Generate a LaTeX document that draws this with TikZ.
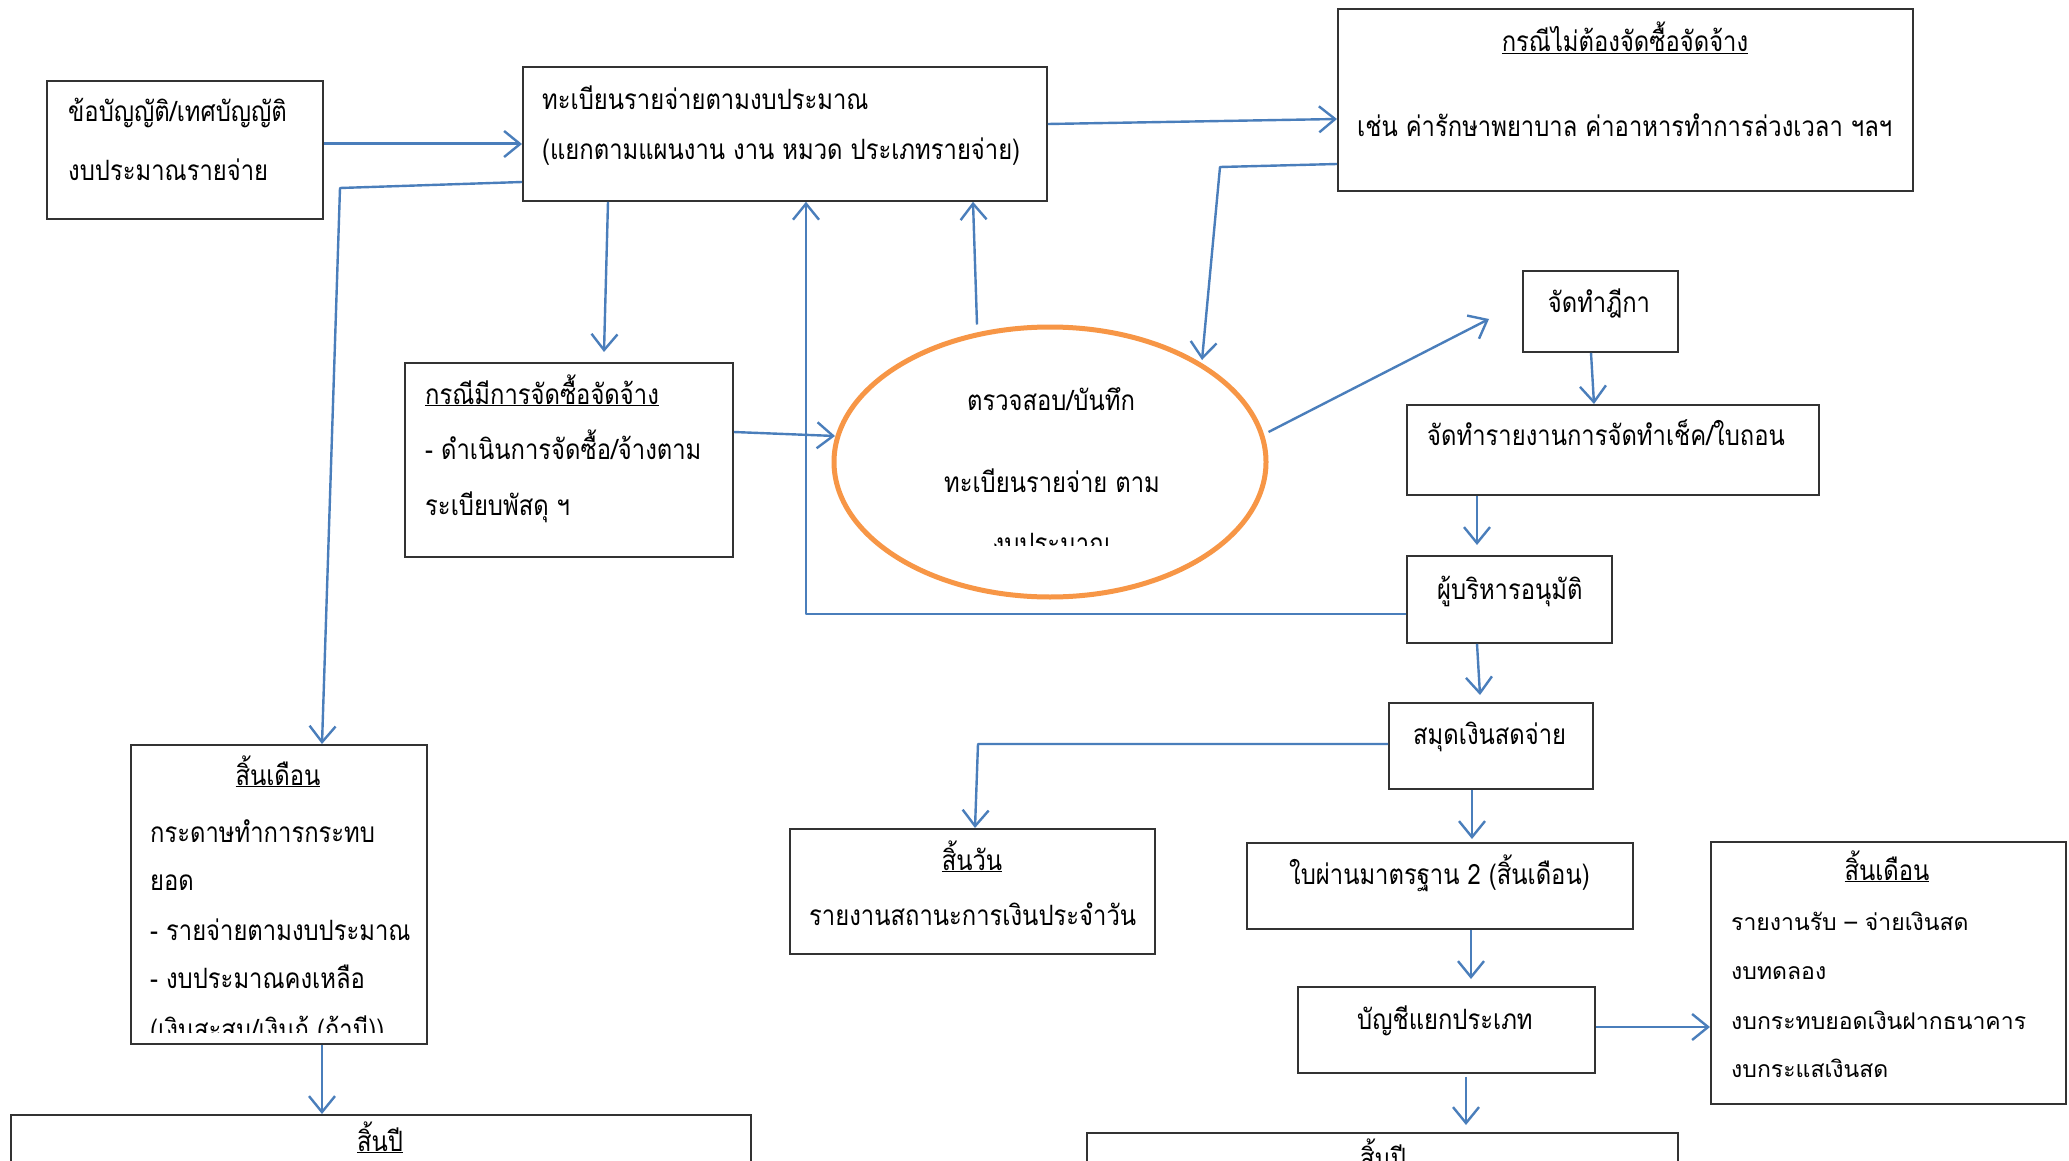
\documentclass[tikz,border=0pt]{standalone}
\usepackage{fontspec}
\newfontfamily\thai[Script=Thai,FakeStretch=0.85]{Loma}
\newfontfamily\thaiw[Script=Thai]{Loma}
\usetikzlibrary{arrows.meta,calc,shapes.geometric}
\definecolor{ln}{HTML}{4A7EBB}
\definecolor{og}{HTML}{F79646}
\tikzset{
  box/.style={draw=black!80, line width=1.8pt, inner sep=0pt, anchor=north west},
  conn/.style={draw=ln, line width=2.4pt, line join=round},
  arr/.style={conn, -{Straight Barb[length=16pt,width=26pt,line width=2.4pt]}},
  tx/.style={font=\thai\fontsize{28}{32}\selectfont, inner sep=0pt, anchor=base west},
  tc/.style={tx, anchor=base},
  tr/.style={font=\thaiw\fontsize{23}{27}\selectfont, inner sep=0pt, anchor=base west},
}
\begin{document}
\begin{tikzpicture}[x=1pt,y=-1pt]
\clip (0,0) rectangle (2069,1161);
\fill[white] (0,0) rectangle (2069,1161);
% boxes
\node[box, minimum width=276pt, minimum height=138pt] (b1) at (46,80) {};
\node[box, minimum width=524pt, minimum height=134pt] (b2) at (522,66) {};
\node[box, minimum width=575pt, minimum height=182pt] (b3) at (1337,8) {};
\node[box, minimum width=328pt, minimum height=194pt] (b4) at (404,362) {};
\node[box, minimum width=155pt, minimum height=81pt] (b5) at (1522,270) {};
\node[box, minimum width=412pt, minimum height=90pt] (b6) at (1406,404) {};
\node[box, minimum width=205pt, minimum height=87pt] (b7) at (1406,555) {};
\node[box, minimum width=204pt, minimum height=86pt] (b8) at (1388,702) {};
\node[box, minimum width=365pt, minimum height=125pt] (b9) at (789,828) {};
\node[box, minimum width=386pt, minimum height=86pt] (b10) at (1246,842) {};
\node[box, minimum width=297pt, minimum height=86pt] (b11) at (1297,986) {};
\node[box, minimum width=591pt, minimum height=90pt] (b12) at (1086,1132) {};
\node[box, minimum width=355pt, minimum height=262pt] (b13) at (1710,841) {};
\node[box, minimum width=296pt, minimum height=299pt] (b14) at (130,744) {};
\node[box, minimum width=740pt, minimum height=90pt] (b15) at (10,1114) {};
\node[draw=og, line width=5pt, ellipse, minimum width=432pt, minimum height=270pt, inner sep=0pt] (e) at (1050,462) {};
% texts
\node[tx] (t1a) at (68,122) {ข้อบัญญัติ/เทศบัญญัติ};
\node[tx] (t1b) at (68,181) {งบประมาณรายจ่าย};
\node[tx] (t2a) at (542,110) {ทะเบียนรายจ่ายตามงบประมาณ};
\node[tx] (t2b) at (542,160) {(แยกตามแผนงาน งาน หมวด ประเภทรายจ่าย)};
\node[tc] (t3a) at (1625,52) {\underline{กรณีไม่ต้องจัดซื้อจัดจ้าง}};
\node[tx] (t3b) at (1357,137) {เช่น ค่ารักษาพยาบาล ค่าอาหารทำการล่วงเวลา ฯลฯ};
\node[tx] (t4a) at (425,404) {\underline{กรณีมีการจัดซื้อจัดจ้าง}};
\node[tx] (t4b) at (425,459) {- ดำเนินการจัดซื้อ/จ้างตาม};
\node[tx] (t4c) at (425,515) {ระเบียบพัสดุ ฯ};
\node[tc] (tea) at (1051,410) {ตรวจสอบ/บันทึก};
\node[tc] (teb) at (1052,492) {ทะเบียนรายจ่าย ตาม};
\begin{scope}
\clip (900,500) rectangle (1200,545);
\node[tc] (tec) at (1052,553) {งบประมาณ};
\end{scope}
\node[tc] (t5) at (1599,312) {จัดทำฎีกา};
\node[tx] (t6) at (1427,445) {จัดทำรายงานการจัดทำเช็ค/ใบถอน};
\node[tx] (t7) at (1437,599) {ผู้บริหารอนุมัติ};
\node[tx] (t8) at (1413,744) {สมุดเงินสดจ่าย};
\node[tc] (t9a) at (972,870) {\underline{สิ้นวัน}};
\node[tx] (t9b) at (809,925) {รายงานสถานะการเงินประจำวัน};
\node[tx] (t10) at (1289,884) {ใบผ่านมาตรฐาน 2 (สิ้นเดือน)};
\node[tx] (t11) at (1357,1029) {บัญชีแยกประเภท};
\node[tc] (t12) at (1383,1168) {\underline{สิ้นปี}};
\node[tc] (t13a) at (1887,880) {\underline{สิ้นเดือน}};
\node[tr] (t13b) at (1731,930) {รายงานรับ – จ่ายเงินสด};
\node[tr] (t13c) at (1731,979) {งบทดลอง};
\node[tr] (t13d) at (1731,1029) {งบกระทบยอดเงินฝากธนาคาร};
\node[tr] (t13e) at (1731,1077) {งบกระแสเงินสด};
\node[tc] (t14a) at (278,785) {\underline{สิ้นเดือน}};
\node[tx] (t14b) at (150,842) {กระดาษทำการกระทบ};
\node[tx] (t14c) at (150,890) {ยอด};
\node[tx] (t14d) at (150,940) {- รายจ่ายตามงบประมาณ};
\node[tx] (t14e) at (150,988) {- งบประมาณคงเหลือ};
\begin{scope}
\clip (140,1000) rectangle (420,1032);
\node[tx] (t14f) at (150,1039) {(เงินสะสม/เงินกู้ (ถ้ามี))};
\end{scope}
\node[tc] (t15) at (380,1151) {\underline{สิ้นปี}};
% free-end coordinates
\coordinate (e3) at (1202,360);
\coordinate (e4) at (835,436);
\coordinate (f5) at (1489,319);
% connectors
\draw[arr, line width=3pt] (b1.east |- 0,144) -- (b2.west |- 0,144);
\draw[arr] (b2.west |- 0,182) -- (340,188) -- (322,0 |- b14.north);
\draw[arr] (608,0 |- b2.south) -- ($(604,0 |- b4.north)+(0,-10)$);
\draw[arr] (b7.west |- 0,614) -- (806,614) -- (806,0 |- b2.south);
\draw[arr] (977,0 |- e.north) -- (973,0 |- b2.south);
\draw[arr] (b2.east |- 0,124) -- (b3.west |- 0,119);
\draw[arr] (b3.west |- 0,164) -- (1220,167) -- (e3);
\draw[arr] (b4.east |- 0,432) -- (e4);
\draw[arr] (e.east |- 0,432) -- (f5);
\draw[arr] (1591,0 |- b5.south) -- (1594,0 |- b6.north);
\draw[arr] (1477,0 |- b6.south) -- ($(1477,0 |- b7.north)+(0,-10)$);
\draw[arr] (1477,0 |- b7.south) -- ($(1480,0 |- b8.north)+(0,-7)$);
\draw[arr] (b8.west |- 0,744) -- (978,744) -- (975,0 |- b9.north);
\draw[arr] (1472,0 |- b8.south) -- ($(1472,0 |- b10.north)+(0,-3)$);
\draw[arr] (1471,0 |- b10.south) -- ($(1471,0 |- b11.north)+(0,-7)$);
\draw[arr] ($(1466,0 |- b11.south)+(0,3)$) -- ($(1466,0 |- b12.north)+(0,-7)$);
\draw[arr] (b11.east |- 0,1027) -- (b13.west |- 0,1027);
\draw[arr] (322,0 |- b14.south) -- (322,0 |- b15.north);
\end{tikzpicture}
\end{document}
